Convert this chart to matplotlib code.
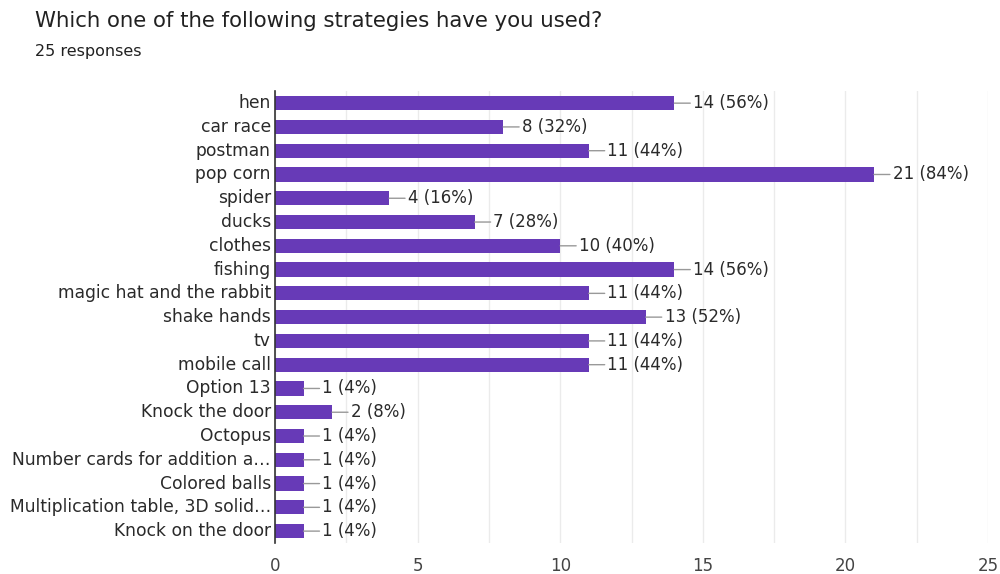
import matplotlib
matplotlib.use("Agg")
import matplotlib.pyplot as plt
from matplotlib.ticker import MultipleLocator

categories = ["hen", "car race", "postman", "pop corn", "spider", "ducks", "clothes",
              "fishing", "magic hat and the rabbit", "shake hands", "tv", "mobile call",
              "Option 13", "Knock the door", "Octopus", "Number cards for addition a\u2026",
              "Colored balls", "Multiplication table, 3D solid\u2026", "Knock on the door"]
counts = [14, 8, 11, 21, 4, 7, 10, 14, 11, 13, 11, 11, 1, 2, 1, 1, 1, 1, 1]
total = 25
xticks = [0, 5, 10, 15, 20, 25]

BAR = "#673ab7"
FONT = "DejaVu Sans"
fig = plt.figure(figsize=(10, 5.74), dpi=100)
ax = fig.add_axes([0.275, 0.054, 0.713, 0.787])

y = list(range(len(categories)))
ax.barh(y, counts, height=0.6, color=BAR, zorder=3)
ax.set_ylim(len(categories) - 0.5, -0.5)
ax.set_xlim(0, 25)
ax.set_yticks(y)
ax.set_yticklabels(categories, fontsize=12.3, color="#2a2a2a", family=FONT, va="center")
ax.set_xticks(xticks)
ax.set_xticklabels([str(t) for t in xticks], fontsize=12, color="#444444", family=FONT)
ax.xaxis.set_minor_locator(MultipleLocator(2.5))
ax.grid(axis="x", which="both", color="#ebebeb", linewidth=1, zorder=0)
ax.tick_params(axis="both", which="both", length=0)
ax.tick_params(axis="y", pad=3)
ax.tick_params(axis="x", pad=10)
for s in ["top", "right", "bottom"]:
    ax.spines[s].set_visible(False)
ax.spines["left"].set_color("#333333")
ax.spines["left"].set_linewidth(1.2)
ax.spines["left"].set_zorder(4)

for i, v in enumerate(counts):
    pct = round(v / total * 100)
    ax.annotate(f"{v} ({pct}%)", xy=(v, i), xytext=(13.5, 0), textcoords="offset points",
                va="center", ha="left", fontsize=12, color="#2a2a2a", family=FONT,
                arrowprops=dict(arrowstyle="-", color="#999999", lw=1, shrinkA=0, shrinkB=0),
                zorder=5)

fig.text(0.035, 0.963, "Which one of the following strategies have you used?",
         fontsize=15.3, color="#212121", family=FONT, va="center", ha="left")
fig.text(0.035, 0.910, "25 responses", fontsize=11.5, color="#212121", family=FONT,
         va="center", ha="left")

fig.savefig("out.png", dpi=100)
